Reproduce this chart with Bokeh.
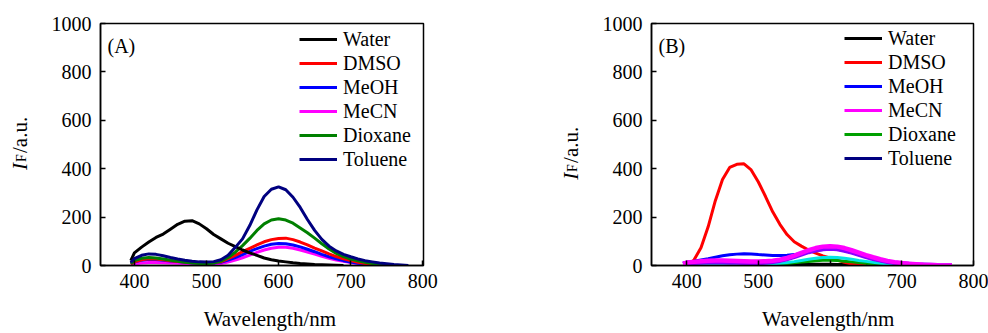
import math
from bokeh.plotting import figure
from bokeh.models import Label, Legend, LegendItem, FixedTicker, Range1d
from bokeh.core.properties import value
from bokeh.layouts import row
from bokeh.embed import file_html
from bokeh.resources import INLINE

nan = float("nan")

# ---------------- data ----------------
wavelength = [395, 400, 410, 420, 430, 440, 450, 460, 470, 480, 490, 500, 510, 520,
              530, 540, 550, 560, 570, 580, 590, 600, 610, 620, 630, 640, 650, 660,
              670, 680, 690, 700, 710, 720, 730, 740, 750, 760, 770, 780]

x_ticks = [400, 500, 600, 700, 800]
y_ticks = [0, 200, 400, 600, 800, 1000]
solvents = ["Water", "DMSO", "MeOH", "MeCN", "Dioxane", "Toluene"]

# Panel (A)
a_water = [20, 52, 76, 97, 116, 130, 150, 170, 183, 185, 172, 152, 128, 110,
           92, 78, 64, 52, 42, 31, 24, 19, 15, 11, 8, 6, 4, 3,
           2, 1, 0, nan, nan, nan, nan, nan, nan, nan, nan, nan]
a_dmso = [6, 15, 24, 28, 27, 24, 20, 17, 14, 12, 11, 10, 11, 15,
          28, 42, 57, 71, 85, 98, 107, 112, 113, 107, 97, 85, 72, 60,
          48, 37, 28, 20, 13, 8, 4, 2, 0, nan, nan, nan]
a_meoh = [6, 14, 22, 26, 25, 22, 19, 16, 13, 11, 10, 9, 10, 13,
          22, 33, 45, 58, 70, 80, 88, 91, 90, 85, 77, 67, 57, 46,
          36, 28, 20, 14, 9, 6, 3, 1, 0, nan, nan, nan]
a_mecn = [3, 6, 10, 12, 12, 11, 10, 9, 8, 7, 6, 6, 6, 8,
          14, 22, 32, 43, 54, 64, 71, 75, 75, 71, 64, 56, 47, 38,
          30, 23, 17, 12, 8, 5, 3, 1, 0, nan, nan, nan]
a_dioxane = [8, 20, 30, 33, 31, 27, 22, 17, 13, 10, 8, 7, 10, 18,
             33, 55, 82, 112, 145, 172, 188, 193, 188, 175, 155, 135, 113, 90,
             68, 50, 37, 27, 19, 13, 8, 5, 3, 1, 0, nan]
a_toluene = [12, 28, 42, 48, 46, 40, 33, 27, 22, 18, 15, 14, 16, 24,
             42, 75, 110, 165, 230, 285, 315, 325, 313, 282, 240, 190, 145, 108,
             80, 60, 46, 36, 27, 20, 15, 10, 7, 4, 2, 0]

# Panel (B)
b_water = [3, 4, 5, 5, 5, 5, 5, 5, 5, 5, 5, 5, 5, 5,
           5, 5, 5, 5, 5, 5, 5, 5, 4, 4, 3, 3, 2, 2,
           1, 1, 1, 0, nan, nan, nan, nan, nan, nan, nan, nan]
b_dmso = [nan, 0, 22, 73, 160, 268, 355, 405, 418, 420, 395, 345, 285, 222,
          170, 128, 98, 80, 64, 51, 40, 31, 22, 13, 6, 2, 0, nan,
          nan, nan, nan, nan, nan, nan, nan, nan, nan, nan, nan, nan]
b_meoh = [10, 14, 18, 23, 28, 34, 40, 44, 47, 49, 48, 45, 43, 41,
          41, 42, 45, 50, 56, 62, 66, 68, 67, 62, 54, 45, 36, 28,
          21, 15, 10, 7, 5, 3, 2, 1, 0, nan, nan, nan]
b_mecn = [8, 12, 15, 18, 20, 21, 21, 20, 19, 18, 17, 17, 18, 20,
          24, 31, 41, 52, 63, 72, 78, 80, 78, 72, 63, 53, 43, 34,
          26, 19, 14, 10, 7, 5, 3, 2, 1, 0.5, 0, nan]
b_dioxane = [2, 3, 3, 4, 4, 4, 4, 4, 4, 4, 4, 4, 4, 5,
             6, 8, 11, 14, 17, 20, 22, 22, 21, 18, 15, 12, 9, 6,
             4, 3, 2, 1, 0, nan, nan, nan, nan, nan, nan, nan]
b_toluene = [6, 9, 11, 12, 13, 13, 13, 12, 12, 11, 11, 11, 12, 15,
             20, 27, 36, 46, 56, 63, 68, 70, 68, 62, 54, 45, 36, 28,
             21, 15, 11, 8, 6, 4, 3, 2, 1, 0.5, 0, nan]
b_extra = [3, 5, 6, 7, 7, 7, 7, 6, 6, 6, 6, 6, 6, 7,
           9, 12, 16, 21, 26, 30, 33, 34, 33, 30, 26, 21, 17, 13,
           9, 7, 5, 3, 2, 1, 0, nan, nan, nan, nan, nan]

FONT = "Liberation Serif"
FS = "20px"
TOP, BOTTOM = 23, 67          # shared frame borders (row aligns the frames)
FRAME_BOTTOM = 333 - BOTTOM
NB = "\u00a0"


def base_fig(width, left, right, xr, xlabel):
    p = figure(width=width, height=333, x_range=Range1d(*xr), y_range=Range1d(0, 1000),
               output_backend="svg", toolbar_location=None, title=None,
               min_border_left=left, min_border_right=right,
               min_border_top=TOP, min_border_bottom=BOTTOM)
    p.grid.visible = False
    p.outline_line_color = "black"
    p.outline_line_width = 1.5
    p.outline_line_alpha = 1
    p.background_fill_color = "white"
    p.border_fill_color = "white"
    for ax, ticks, so in ((p.xaxis[0], x_ticks, 8), (p.yaxis[0], y_ticks, 9)):
        ax.ticker = FixedTicker(ticks=ticks)
        ax.major_tick_in = 5
        ax.major_tick_out = 0
        ax.minor_tick_in = 0
        ax.minor_tick_out = 0
        ax.major_tick_line_width = 1.5
        ax.axis_line_width = 1.5
        ax.major_label_text_font = FONT
        ax.major_label_text_font_size = FS
        ax.major_label_text_color = "black"
        ax.major_label_standoff = so
    xa = p.xaxis[0]
    xa.axis_label = xlabel
    xa.axis_label_text_font = FONT
    xa.axis_label_text_font_size = "21px"
    xa.axis_label_text_font_style = "normal"
    xa.axis_label_text_color = "black"
    xa.axis_label_standoff = 16
    return p


def ylabel_fig(width, bx, by):
    """Narrow figure holding only the rotated I_F/a.u. axis title (data = pixels)."""
    q = figure(width=width, height=333, x_range=Range1d(0, width),
               y_range=Range1d(FRAME_BOTTOM, TOP),
               output_backend="svg", toolbar_location=None, title=None,
               x_axis_location=None, y_axis_location=None, min_border=0,
               min_border_top=TOP, min_border_bottom=BOTTOM)
    q.grid.visible = False
    q.outline_line_color = None
    q.background_fill_color = "white"
    q.border_fill_color = "white"
    common = dict(text_font=value(FONT), text_align="left", text_baseline="alphabetic",
                  text_color="black", angle=math.pi / 2)
    q.text(x=[bx], y=[by], text=["I"], text_font_size="21px", text_font_style="italic", **common)
    q.text(x=[bx + 2], y=[by - 8], text=["F"], text_font_size="14px", **common)
    q.text(x=[bx], y=[by - 17], text=["/a.u."], text_font_size="21px", **common)
    return q


def add_tag(p, tag, y):
    p.add_layout(Label(x=7, y=y, x_units="screen", y_units="screen", text=tag,
                       text_font=FONT, text_font_size=FS, text_align="left",
                       text_color="black", text_baseline="alphabetic"))


def add_legend(p, renderers, loc):
    items = [LegendItem(label=name, renderers=[r]) for name, r in zip(solvents, renderers)]
    lg = Legend(items=items, location=loc, border_line_color=None,
                background_fill_alpha=0, padding=0, spacing=0, margin=0,
                label_height=24, glyph_height=24, glyph_width=38, label_standoff=6,
                label_text_font=FONT, label_text_font_size=FS, label_text_color="black")
    p.add_layout(lg)


# ---------------- panel A ----------------
labA = ylabel_fig(36, 19, 170)
pA = base_fig(458, 64, 71, (353, 801), NB * 3 + "Wavelength/nm")
rA = {}
rA["MeCN"] = pA.line(wavelength, a_mecn, line_color="#ff00ff", line_width=3)
rA["MeOH"] = pA.line(wavelength, a_meoh, line_color="#0000ff", line_width=3)
rA["DMSO"] = pA.line(wavelength, a_dmso, line_color="#ff0000", line_width=3)
rA["Dioxane"] = pA.line(wavelength, a_dioxane, line_color="#008000", line_width=3)
rA["Water"] = pA.line(wavelength, a_water, line_color="#000000", line_width=3)
rA["Toluene"] = pA.line(wavelength, a_toluene, line_color="#000080", line_width=3)
add_legend(pA, [rA[s] for s in solvents], (199, 94))
add_tag(pA, "(A)", 220)

# ---------------- panel B ----------------
labB = ylabel_fig(100, 76, 180)
pB = base_fig(394, 57, 15, (351, 800), NB * 6 + "Wavelength/nm")
rB = {}
rB["Water"] = pB.line(wavelength, b_water, line_color="#000000", line_width=3)
rB["DMSO"] = pB.line(wavelength, b_dmso, line_color="#ff0000", line_width=3)
rB["Dioxane"] = pB.line(wavelength, b_dioxane, line_color="#00a000", line_width=3)
pB.line(wavelength, b_extra, line_color="#00e5e5", line_width=3)
rB["MeOH"] = pB.line(wavelength, b_meoh, line_color="#0000ff", line_width=3)
rB["Toluene"] = pB.line(wavelength, b_toluene, line_color="#000080", line_width=3)
pB.line(wavelength, b_toluene, line_color="#8a00ff", line_width=4.5)
rB["MeCN"] = pB.line(wavelength, b_mecn, line_color="#ff00ff", line_width=3)
pB.line(wavelength, b_mecn, line_color="#ff00ff", line_width=4.5)
add_legend(pB, [rB[s] for s in solvents], (193, 95))
add_tag(pB, "(B)", 220)

layout = row(labA, pA, labB, pB)
open("out.html", "w").write(file_html(layout, INLINE))
